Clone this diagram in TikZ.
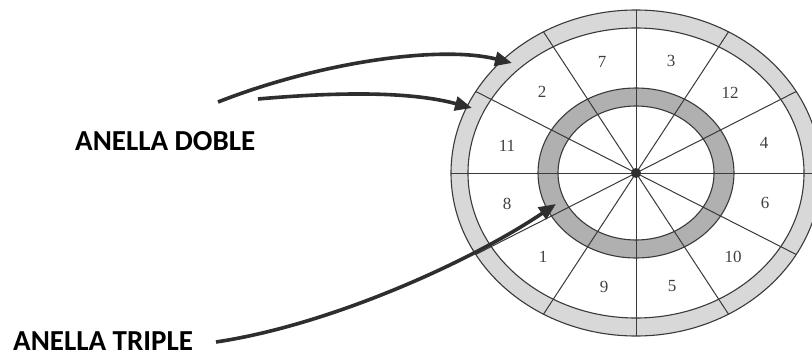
\documentclass[tikz,border=0pt]{standalone}
\usepackage{fontspec}
\setmainfont{Liberation Serif}
\newfontfamily\labfont{Carlito}
\usetikzlibrary{arrows.meta}
\definecolor{ink}{HTML}{2E2E2E}
\definecolor{lineink}{HTML}{3A3A3A}
\definecolor{bandlight}{HTML}{D8D8D8}
\definecolor{banddark}{HTML}{B0B0B0}
\tikzset{
  ringline/.style={draw=lineink, line width=1.1pt},
  spoke/.style={draw=lineink, line width=1pt},
  num/.style={font=\fontsize{17}{17}\selectfont, text=black!75, inner sep=0pt},
  lab/.style={font=\labfont\bfseries\fontsize{29}{30}\selectfont, text=black, inner sep=0pt, anchor=base west},
  pointer/.style={draw=ink, line width=3.6pt, -{Triangle[length=17pt,width=14pt]}}
}
\begin{document}
\begin{tikzpicture}[x=1pt,y=-1pt]
\useasboundingbox (0,0) rectangle (812,356);
\clip (0,0) rectangle (812,356);
\fill[white] (0,0) rectangle (812,356);
\coordinate (c) at (636,173);
% shaded bands
\fill[bandlight, even odd rule] (c) ellipse [x radius=185, y radius=163] (c) ellipse [x radius=168, y radius=145];
\fill[banddark, even odd rule] (c) ellipse [x radius=98, y radius=85] (c) ellipse [x radius=78, y radius=67];
% outlines
\draw[ringline] (c) ellipse [x radius=185, y radius=163];
\draw[ringline] (c) ellipse [x radius=168, y radius=145];
\draw[ringline] (c) ellipse [x radius=98, y radius=85];
\draw[ringline] (c) ellipse [x radius=78, y radius=67];
% spokes
\foreach \t in {0,30,...,330} {
  \draw[spoke] (c) -- ++({185*cos(\t)},{163*sin(\t)});
}
\fill[ink] (c) circle [radius=5];
% sector numbers
\node[num] (n7) at (602,62) {7};
\node[num] (n3) at (671,61) {3};
\node[num] (n2) at (542,92) {2};
\node[num] (n12) at (730,93) {12};
\node[num] (n11) at (507,146) {11};
\node[num] (n4) at (764,143) {4};
\node[num] (n8) at (507,204) {8};
\node[num] (n6) at (765,203) {6};
\node[num] (n1) at (543,257) {1};
\node[num] (n10) at (733,257) {10};
\node[num] (n9) at (604,287) {9};
\node[num] (n5) at (672,286) {5};
% labels
\node[lab] (doble) at (75,150) {ANELLA DOBLE};
\node[lab] (triple) at (13,350) {ANELLA TRIPLE};
% arrow endpoints
\coordinate (a1s) at (218,102);
\coordinate (a1e) at (512,63);
\coordinate (a2s) at (258,99);
\coordinate (a2e) at (472,108);
\coordinate (a3s) at (216,342);
\coordinate (a3e) at (556,204);
\draw[pointer] (a1s) .. controls (320,62) and (440,45) .. (a1e);
\draw[pointer] (a2s) .. controls (360,90) and (420,94) .. (a2e);
\draw[pointer] (a3s) .. controls (330,325) and (470,262) .. (a3e);
\end{tikzpicture}
\end{document}
